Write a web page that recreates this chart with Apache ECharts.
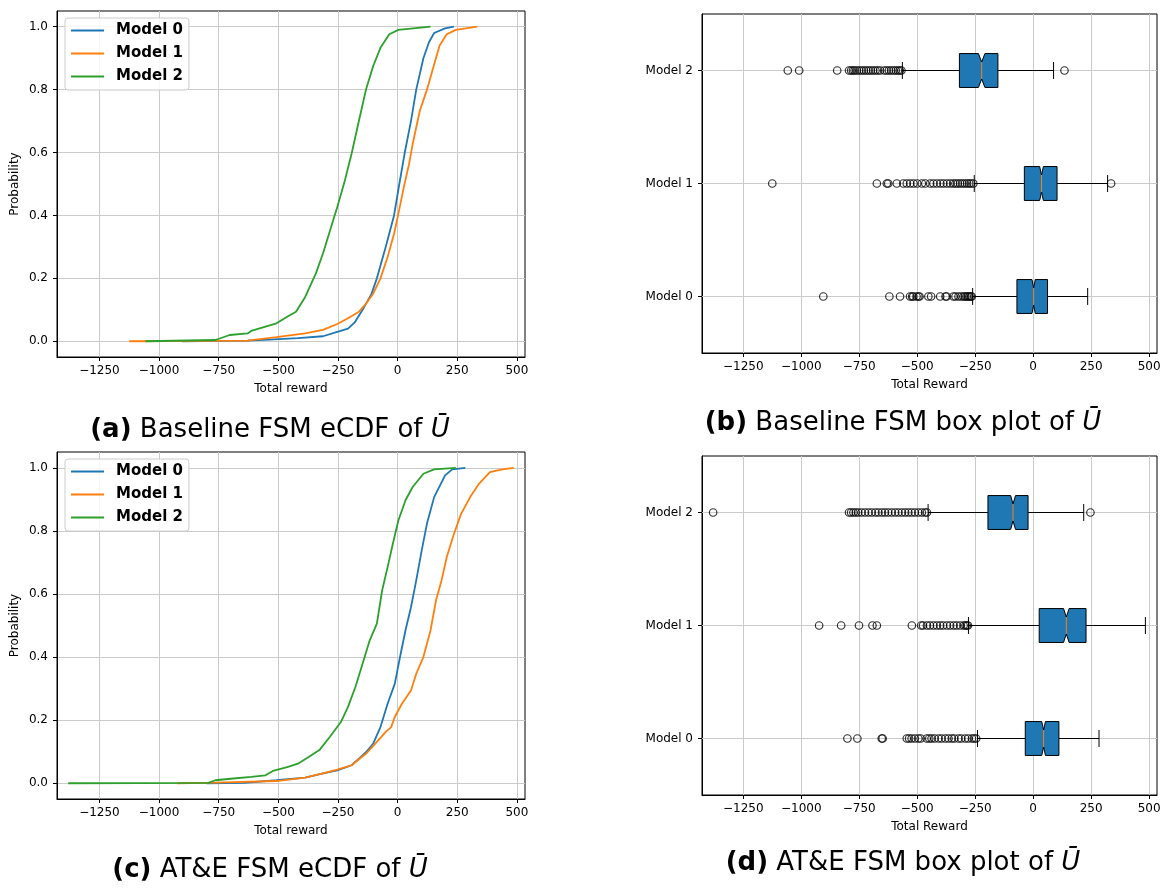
<!DOCTYPE html>
<html>
<head>
<meta charset="utf-8">
<title>FSM reward eCDF and box plots</title>
<script src="https://cdn.jsdelivr.net/npm/echarts@6/dist/echarts.min.js"></script>
<style>
  html, body { margin: 0; padding: 0; background: #fff; }
  #chart { width: 1166px; height: 888px; }
</style>
</head>
<body>
<div id="chart"></div>
<script>
const modelNames = ['Model 0', 'Model 1', 'Model 2']
const colors = ['#1f77b4', '#ff7f0e', '#2ca02c']
const rewardTicks = [-1250, -1000, -750, -500, -250, 0, 250, 500]
const probTicks = [0, 0.2, 0.4, 0.6, 0.8, 1.0]

// (a) baseline FSM eCDF, reward -> cumulative probability
const baseRewards0 = [-905, -629, -538, -418, -313, -253, -208, -180, -147, -110, -87, -50, -15, 7, 30, 56, 78, 108, 131, 153, 199, 236]
const baseProbs0 = [0, 0.002, 0.005, 0.01, 0.016, 0.03, 0.04, 0.06, 0.1, 0.15, 0.2, 0.3, 0.4, 0.5, 0.6, 0.7, 0.8, 0.9, 0.95, 0.98, 0.995, 1.0]
const baseRewards1 = [-1125, -629, -508, -388, -313, -253, -208, -162, -132, -102, -72, -42, -15, 3, 26, 48, 63, 93, 123, 153, 176, 206, 244, 334]
const baseProbs1 = [0, 0.002, 0.013, 0.025, 0.036, 0.055, 0.073, 0.094, 0.12, 0.152, 0.2, 0.268, 0.342, 0.405, 0.49, 0.564, 0.627, 0.733, 0.8, 0.88, 0.94, 0.976, 0.99, 1.0]
const baseRewards2 = [-1057, -764, -704, -629, -614, -508, -463, -426, -388, -343, -313, -283, -253, -223, -193, -162, -132, -102, -72, -35, 3, 138]
const baseProbs2 = [0, 0.004, 0.02, 0.025, 0.033, 0.057, 0.078, 0.094, 0.14, 0.215, 0.279, 0.353, 0.427, 0.506, 0.596, 0.702, 0.802, 0.876, 0.933, 0.976, 0.99, 1.0]

// (c) AT&E FSM eCDF
const ateRewards0 = [-801, -644, -508, -388, -313, -253, -193, -162, -132, -102, -72, -42, -12, 10, 33, 56, 78, 101, 123, 153, 199, 229, 284]
const ateProbs0 = [0, 0.001, 0.0095, 0.018, 0.031, 0.041, 0.057, 0.078, 0.099, 0.126, 0.178, 0.252, 0.315, 0.4, 0.485, 0.558, 0.643, 0.738, 0.823, 0.907, 0.976, 0.995, 1.0]
const ateRewards1 = [-923, -764, -508, -388, -313, -253, -193, -132, -87, -50, -27, -12, 18, 56, 78, 108, 138, 161, 184, 206, 236, 266, 304, 341, 387, 439, 487]
const ateProbs1 = [0, 0.002, 0.007, 0.018, 0.031, 0.043, 0.057, 0.094, 0.131, 0.163, 0.178, 0.21, 0.252, 0.294, 0.347, 0.4, 0.485, 0.58, 0.643, 0.717, 0.79, 0.854, 0.907, 0.949, 0.986, 0.995, 1.0]
const ateRewards2 = [-1381, -794, -764, -689, -614, -554, -523, -463, -418, -373, -328, -283, -238, -208, -177, -147, -117, -87, -65, -42, -20, 3, 33, 63, 108, 153, 244]
const ateProbs2 = [0, 0.001, 0.0095, 0.015, 0.02, 0.025, 0.039, 0.051, 0.062, 0.083, 0.105, 0.148, 0.194, 0.242, 0.305, 0.379, 0.453, 0.506, 0.611, 0.685, 0.759, 0.833, 0.897, 0.939, 0.981, 0.995, 1.0]

// (b) baseline box plot stats, one entry per model
const baseLowWhisker = [-261, -254, -564]
const baseQ1 = [-70, -38, -318]
const baseNotchLo = [-5, 28, -236]
const baseMedian = [2, 36, -222]
const baseNotchHi = [9, 44, -208]
const baseQ3 = [62, 103, -152]
const baseHighWhisker = [235, 321, 88]
const baseOutliers0 = [-905, -620, -574, -531, -522, -517, -503, -495, -490, -452, -440, -401, -378, -373, -344, -335, -322, -310, -300, -293, -286, -280, -275, -269, -265]
const baseOutliers1 = [-1125, -674, -631, -625, -588, -560, -545, -530, -516, -500, -480, -465, -444, -430, -415, -400, -387, -372, -358, -345, -335, -325, -315, -305, -295, -285, -276, -268, -258, 336]
const baseOutliers2 = [-1058, -1009, -845, -794, -785, -777, -770, -760, -750, -740, -730, -720, -710, -700, -690, -680, -670, -660, -642, -632, -622, -612, -602, -592, -583, -575, -568, 135]

// (d) AT&E box plot stats
const ateLowWhisker = [-240, -279, -453]
const ateQ1 = [-34, 26, -195]
const ateNotchLo = [37, 131, -97]
const ateMedian = [45, 143, -87]
const ateNotchHi = [53, 155, -76]
const ateQ3 = [111, 228, -22]
const ateHighWhisker = [284, 484, 218]
const ateOutliers0 = [-801, -758, -653, -649, -545, -535, -524, -510, -495, -485, -459, -448, -438, -425, -408, -395, -379, -365, -351, -340, -322, -310, -293, -280, -264, -255, -246]
const ateOutliers1 = [-923, -828, -751, -693, -674, -523, -483, -475, -458, -445, -430, -415, -401, -388, -372, -358, -343, -330, -315, -300, -292, -286, -281]
const ateOutliers2 = [-1380, -794, -785, -775, -765, -754, -740, -725, -710, -696, -680, -667, -652, -639, -625, -610, -595, -581, -566, -552, -538, -524, -510, -495, -480, -466, -458, 247]

const captions = [
  { tag: '(a)', text: ' Baseline FSM eCDF of ', x: 270, y: 430 },
  { tag: '(b)', text: ' Baseline FSM box plot of ', x: 903, y: 423 },
  { tag: '(c)', text: ' AT&E FSM eCDF of ', x: 270, y: 870 },
  { tag: '(d)', text: ' AT&E FSM box plot of ', x: 903, y: 863 }
]

const xMin = -1428
const xMax = 534
const font = 'DejaVu Sans'
const gridColor = '#cbcbcb'

const chart = echarts.init(document.getElementById('chart'))

function minusFmt(v) {
  return v < 0 ? '\u2212' + Math.abs(v) : String(v)
}

function zip(xs, ys) {
  return xs.map((x, i) => [x, ys[i]])
}

const textBase = { fontFamily: font, fontSize: 12, color: '#000' }

function rewardAxis(gridIndex, name) {
  return {
    type: 'value',
    gridIndex: gridIndex,
    min: xMin,
    max: xMax,
    name: name,
    nameLocation: 'middle',
    nameGap: 26,
    nameTextStyle: textBase,
    axisLine: { show: true, onZero: false, lineStyle: { color: '#000' } },
    axisTick: { show: true, length: 4, customValues: rewardTicks, lineStyle: { color: '#000' } },
    axisLabel: Object.assign({ customValues: rewardTicks, formatter: minusFmt, margin: 8 }, textBase),
    splitLine: { show: true, lineStyle: { color: gridColor, width: 1 } }
  }
}

function probAxis(gridIndex) {
  return {
    type: 'value',
    gridIndex: gridIndex,
    min: -0.05,
    max: 1.05,
    name: 'Probability',
    nameLocation: 'middle',
    nameGap: 36,
    nameTextStyle: textBase,
    axisLine: { show: true, onZero: false, lineStyle: { color: '#000' } },
    axisTick: { show: true, length: 4, customValues: probTicks, lineStyle: { color: '#000' } },
    axisLabel: Object.assign({ customValues: probTicks, formatter: v => v.toFixed(1), margin: 9 }, textBase),
    splitLine: { show: true, lineStyle: { color: gridColor, width: 1 } }
  }
}

function modelAxis(gridIndex) {
  return {
    type: 'category',
    gridIndex: gridIndex,
    data: modelNames,
    boundaryGap: true,
    axisLine: { show: true, onZero: false, lineStyle: { color: '#000' } },
    axisTick: { show: true, alignWithLabel: true, length: 4, lineStyle: { color: '#000' } },
    axisLabel: Object.assign({ margin: 9 }, textBase),
    splitLine: { show: false }
  }
}

// notched horizontal box like matplotlib's boxplot(notch=True, vert=False)
function renderBox(params, api) {
  const row = api.value(0)
  const band = api.size([0, 1])[1]
  const half = band * 0.15
  const at = (v, dy) => {
    const p = api.coord([v, row])
    return [p[0], p[1] + dy]
  }
  const lo = api.value(1)
  const q1 = api.value(2)
  const nlo = api.value(3)
  const med = api.value(4)
  const nhi = api.value(5)
  const q3 = api.value(6)
  const hi = api.value(7)
  const seg = (a, b, color) => ({
    type: 'line',
    shape: { x1: a[0], y1: a[1], x2: b[0], y2: b[1] },
    style: { stroke: color || '#000', lineWidth: 1 }
  })
  return {
    type: 'group',
    children: [
      seg(at(xMin, 0), at(xMax, 0), gridColor),
      seg(at(lo, 0), at(q1, 0)),
      seg(at(q3, 0), at(hi, 0)),
      seg(at(lo, -half / 2), at(lo, half / 2)),
      seg(at(hi, -half / 2), at(hi, half / 2)),
      {
        type: 'polygon',
        shape: {
          points: [
            at(q1, -half), at(nlo, -half), at(med, -half / 2), at(nhi, -half), at(q3, -half),
            at(q3, half), at(nhi, half), at(med, half / 2), at(nlo, half), at(q1, half)
          ]
        },
        style: { fill: '#1f77b4', stroke: '#000', lineWidth: 1 }
      },
      seg(at(med, -half / 2), at(med, half / 2), '#ff7f0e')
    ]
  }
}

function boxData(lo, q1, nlo, med, nhi, q3, hi) {
  return modelNames.map((n, i) => [i, lo[i], q1[i], nlo[i], med[i], nhi[i], q3[i], hi[i]])
}

function outlierData(lists) {
  const out = []
  lists.forEach((list, i) => list.forEach(v => out.push([v, i])))
  return out
}

function ecdfSeries(name, rewards, probs, color, axisIndex) {
  return {
    name: name,
    type: 'line',
    xAxisIndex: axisIndex,
    yAxisIndex: axisIndex,
    data: zip(rewards, probs),
    symbol: 'none',
    showSymbol: false,
    lineStyle: { color: color, width: 1.8 },
    itemStyle: { color: color },
    z: 3
  }
}

function legendAt(top) {
  return {
    data: modelNames,
    orient: 'vertical',
    left: 65,
    top: top,
    // plain thin bar so the key looks like a line sample
    icon: 'path://M0,0H33V1.8H0Z',
    symbolKeepAspect: true,
    itemWidth: 33,
    itemHeight: 15,
    itemGap: 8,
    padding: [5, 6, 6, 6],
    backgroundColor: 'rgba(255,255,255,0.85)',
    borderColor: '#cccccc',
    borderWidth: 1,
    borderRadius: 3,
    selectedMode: false,
    textStyle: { fontFamily: font, fontWeight: 'bold', fontSize: 15, color: '#000', padding: [0, 0, 0, 7] }
  }
}

const gridBox = { show: true, borderColor: '#000', borderWidth: 1, backgroundColor: 'transparent' }

const option = {
  animation: false,
  backgroundColor: '#fff',
  grid: [
    Object.assign({ left: 57, top: 11, width: 468, height: 346 }, gridBox),
    Object.assign({ left: 702, top: 14, width: 455, height: 339 }, gridBox),
    Object.assign({ left: 57, top: 452, width: 468, height: 347 }, gridBox),
    Object.assign({ left: 702, top: 456, width: 455, height: 339 }, gridBox)
  ],
  xAxis: [
    rewardAxis(0, 'Total reward'),
    rewardAxis(1, 'Total Reward'),
    rewardAxis(2, 'Total reward'),
    rewardAxis(3, 'Total Reward')
  ],
  yAxis: [probAxis(0), modelAxis(1), probAxis(2), modelAxis(3)],
  legend: [legendAt(18), legendAt(459)],
  series: [
    ecdfSeries('Model 0', baseRewards0, baseProbs0, colors[0], 0),
    ecdfSeries('Model 1', baseRewards1, baseProbs1, colors[1], 0),
    ecdfSeries('Model 2', baseRewards2, baseProbs2, colors[2], 0),
    ecdfSeries('Model 0', ateRewards0, ateProbs0, colors[0], 2),
    ecdfSeries('Model 1', ateRewards1, ateProbs1, colors[1], 2),
    ecdfSeries('Model 2', ateRewards2, ateProbs2, colors[2], 2),
    {
      name: 'baseline box',
      type: 'custom',
      xAxisIndex: 1,
      yAxisIndex: 1,
      renderItem: renderBox,
      encode: { x: [1, 2, 3, 4, 5, 6, 7], y: 0 },
      data: boxData(baseLowWhisker, baseQ1, baseNotchLo, baseMedian, baseNotchHi, baseQ3, baseHighWhisker),
      z: 2
    },
    {
      name: 'baseline outliers',
      type: 'scatter',
      xAxisIndex: 1,
      yAxisIndex: 1,
      symbol: 'circle',
      symbolSize: 7.5,
      itemStyle: { color: 'transparent', borderColor: '#000', borderWidth: 1.2 },
      data: outlierData([baseOutliers0, baseOutliers1, baseOutliers2]),
      z: 4
    },
    {
      name: 'ate box',
      type: 'custom',
      xAxisIndex: 3,
      yAxisIndex: 3,
      renderItem: renderBox,
      encode: { x: [1, 2, 3, 4, 5, 6, 7], y: 0 },
      data: boxData(ateLowWhisker, ateQ1, ateNotchLo, ateMedian, ateNotchHi, ateQ3, ateHighWhisker),
      z: 2
    },
    {
      name: 'ate outliers',
      type: 'scatter',
      xAxisIndex: 3,
      yAxisIndex: 3,
      symbol: 'circle',
      symbolSize: 7.5,
      itemStyle: { color: 'transparent', borderColor: '#000', borderWidth: 1.2 },
      data: outlierData([ateOutliers0, ateOutliers1, ateOutliers2]),
      z: 4
    }
  ],
  graphic: captions.map(c => ({
    type: 'text',
    x: c.x,
    y: c.y,
    style: {
      text: '{b|' + c.tag + '}' + c.text + '{i|Ū}',
      align: 'center',
      verticalAlign: 'middle',
      fontFamily: font,
      fontSize: 26,
      fill: '#000',
      rich: {
        b: { fontFamily: font, fontSize: 26, fontWeight: 'bold' },
        i: { fontFamily: font, fontSize: 26, fontStyle: 'italic' }
      }
    }
  }))
}

chart.setOption(option)
</script>
</body>
</html>
